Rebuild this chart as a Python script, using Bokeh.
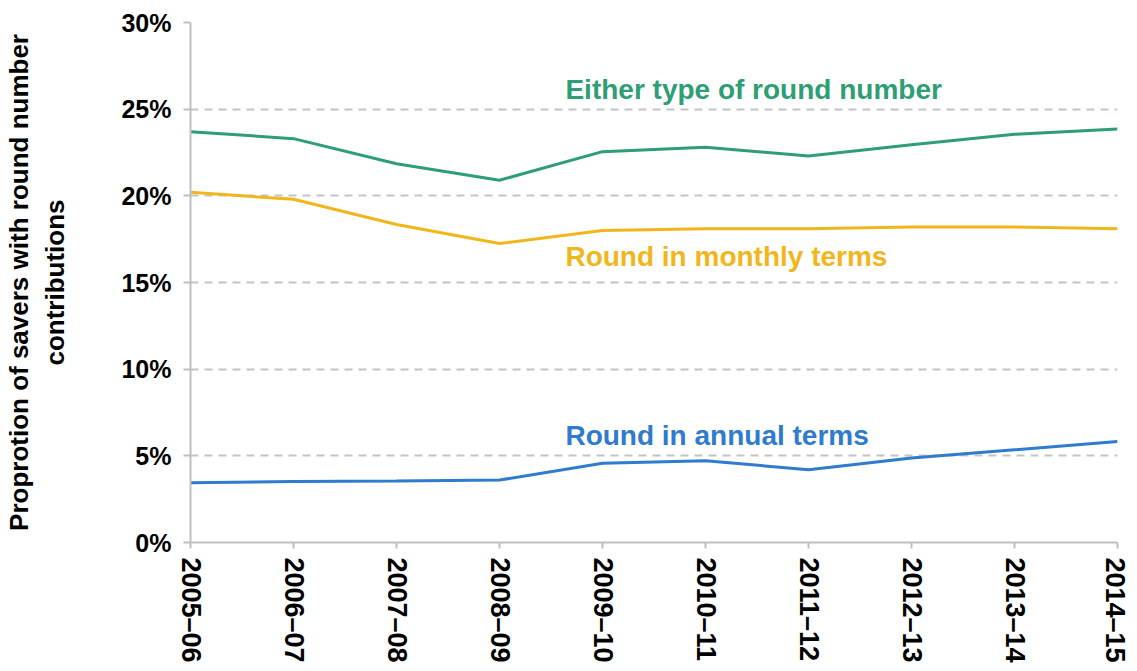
from bokeh.plotting import figure
from bokeh.models import Range1d, FixedTicker, Label
from bokeh.embed import file_html
from bokeh.resources import INLINE

years = ["2005–06", "2006–07", "2007–08", "2008–09", "2009–10",
         "2010–11", "2011–12", "2012–13", "2013–14", "2014–15"]
either = [23.7, 23.3, 21.85, 20.9, 22.55, 22.8, 22.3, 22.95, 23.55, 23.85]
monthly = [20.2, 19.8, 18.35, 17.25, 18.0, 18.1, 18.1, 18.2, 18.2, 18.1]
annual = [3.45, 3.52, 3.55, 3.6, 4.57, 4.72, 4.2, 4.87, 5.35, 5.82]
y_ticks = [0, 5, 10, 15, 20, 25, 30]
y_tick_labels = ["0%", "5%", "10%", "15%", "20%", "25%", "30%"]

series = [
    ("Either type of round number", either, "#2E9E74", 26.15),
    ("Round in monthly terms", monthly, "#F2B61B", 16.5),
    ("Round in annual terms", annual, "#2E7BCF", 6.2),
]
label_x = 3.64

FONT = "Liberation Sans"
xs = list(range(len(years)))

p = figure(width=1129, height=665, output_backend="svg", toolbar_location=None,
           x_range=Range1d(0, len(years) - 1), y_range=Range1d(0, 30),
           min_border_left=190, min_border_right=12, min_border_top=22,
           min_border_bottom=120)
p.outline_line_color = None
p.background_fill_color = "white"
p.border_fill_color = "white"

for name, vals, col, ly in series:
    p.line(xs, vals, line_color=col, line_width=3)
    p.add_layout(Label(x=label_x, y=ly, text=name, text_color=col,
                       text_font=FONT, text_font_style="bold",
                       text_font_size="28px", text_baseline="alphabetic"))

p.xgrid.visible = False
p.ygrid.ticker = FixedTicker(ticks=y_ticks)
p.ygrid.grid_line_color = "#C4C4C4"
p.ygrid.grid_line_width = 2
p.ygrid.grid_line_dash = "8 6"

p.yaxis.ticker = FixedTicker(ticks=y_ticks)
p.yaxis.major_label_overrides = {t: l for t, l in zip(y_ticks, y_tick_labels)}
p.yaxis.major_label_text_font = FONT
p.yaxis.major_label_text_font_style = "bold"
p.yaxis.major_label_text_font_size = "25px"
p.yaxis.major_label_text_color = "black"
p.yaxis.major_label_standoff = 12
p.yaxis.axis_line_color = "#BFBFBF"
p.yaxis.axis_line_width = 2
p.yaxis.major_tick_line_color = "#BFBFBF"
p.yaxis.major_tick_line_width = 2
p.yaxis.major_tick_in = 0
p.yaxis.major_tick_out = 7
p.yaxis.minor_tick_line_color = None
p.yaxis.axis_label = "Proprotion of savers with round number\ncontributions"
p.yaxis.axis_label_text_font = FONT
p.yaxis.axis_label_text_font_style = "bold"
p.yaxis.axis_label_text_font_size = "26px"
p.yaxis.axis_label_text_color = "black"
p.yaxis.axis_label_standoff = 48

p.xaxis.ticker = FixedTicker(ticks=xs)
p.xaxis.major_label_overrides = {i: y for i, y in zip(xs, years)}
p.xaxis.major_label_orientation = "vertical"
p.xaxis.major_label_text_font = FONT
p.xaxis.major_label_text_font_style = "bold"
p.xaxis.major_label_text_font_size = "27px"
p.xaxis.major_label_text_color = "black"
p.xaxis.major_label_standoff = 9
p.xaxis.axis_line_color = "#BFBFBF"
p.xaxis.axis_line_width = 2
p.xaxis.major_tick_line_color = "#BFBFBF"
p.xaxis.major_tick_line_width = 2
p.xaxis.major_tick_in = 0
p.xaxis.major_tick_out = 6
p.xaxis.minor_tick_line_color = None

open("out.html", "w").write(file_html(p, INLINE))
